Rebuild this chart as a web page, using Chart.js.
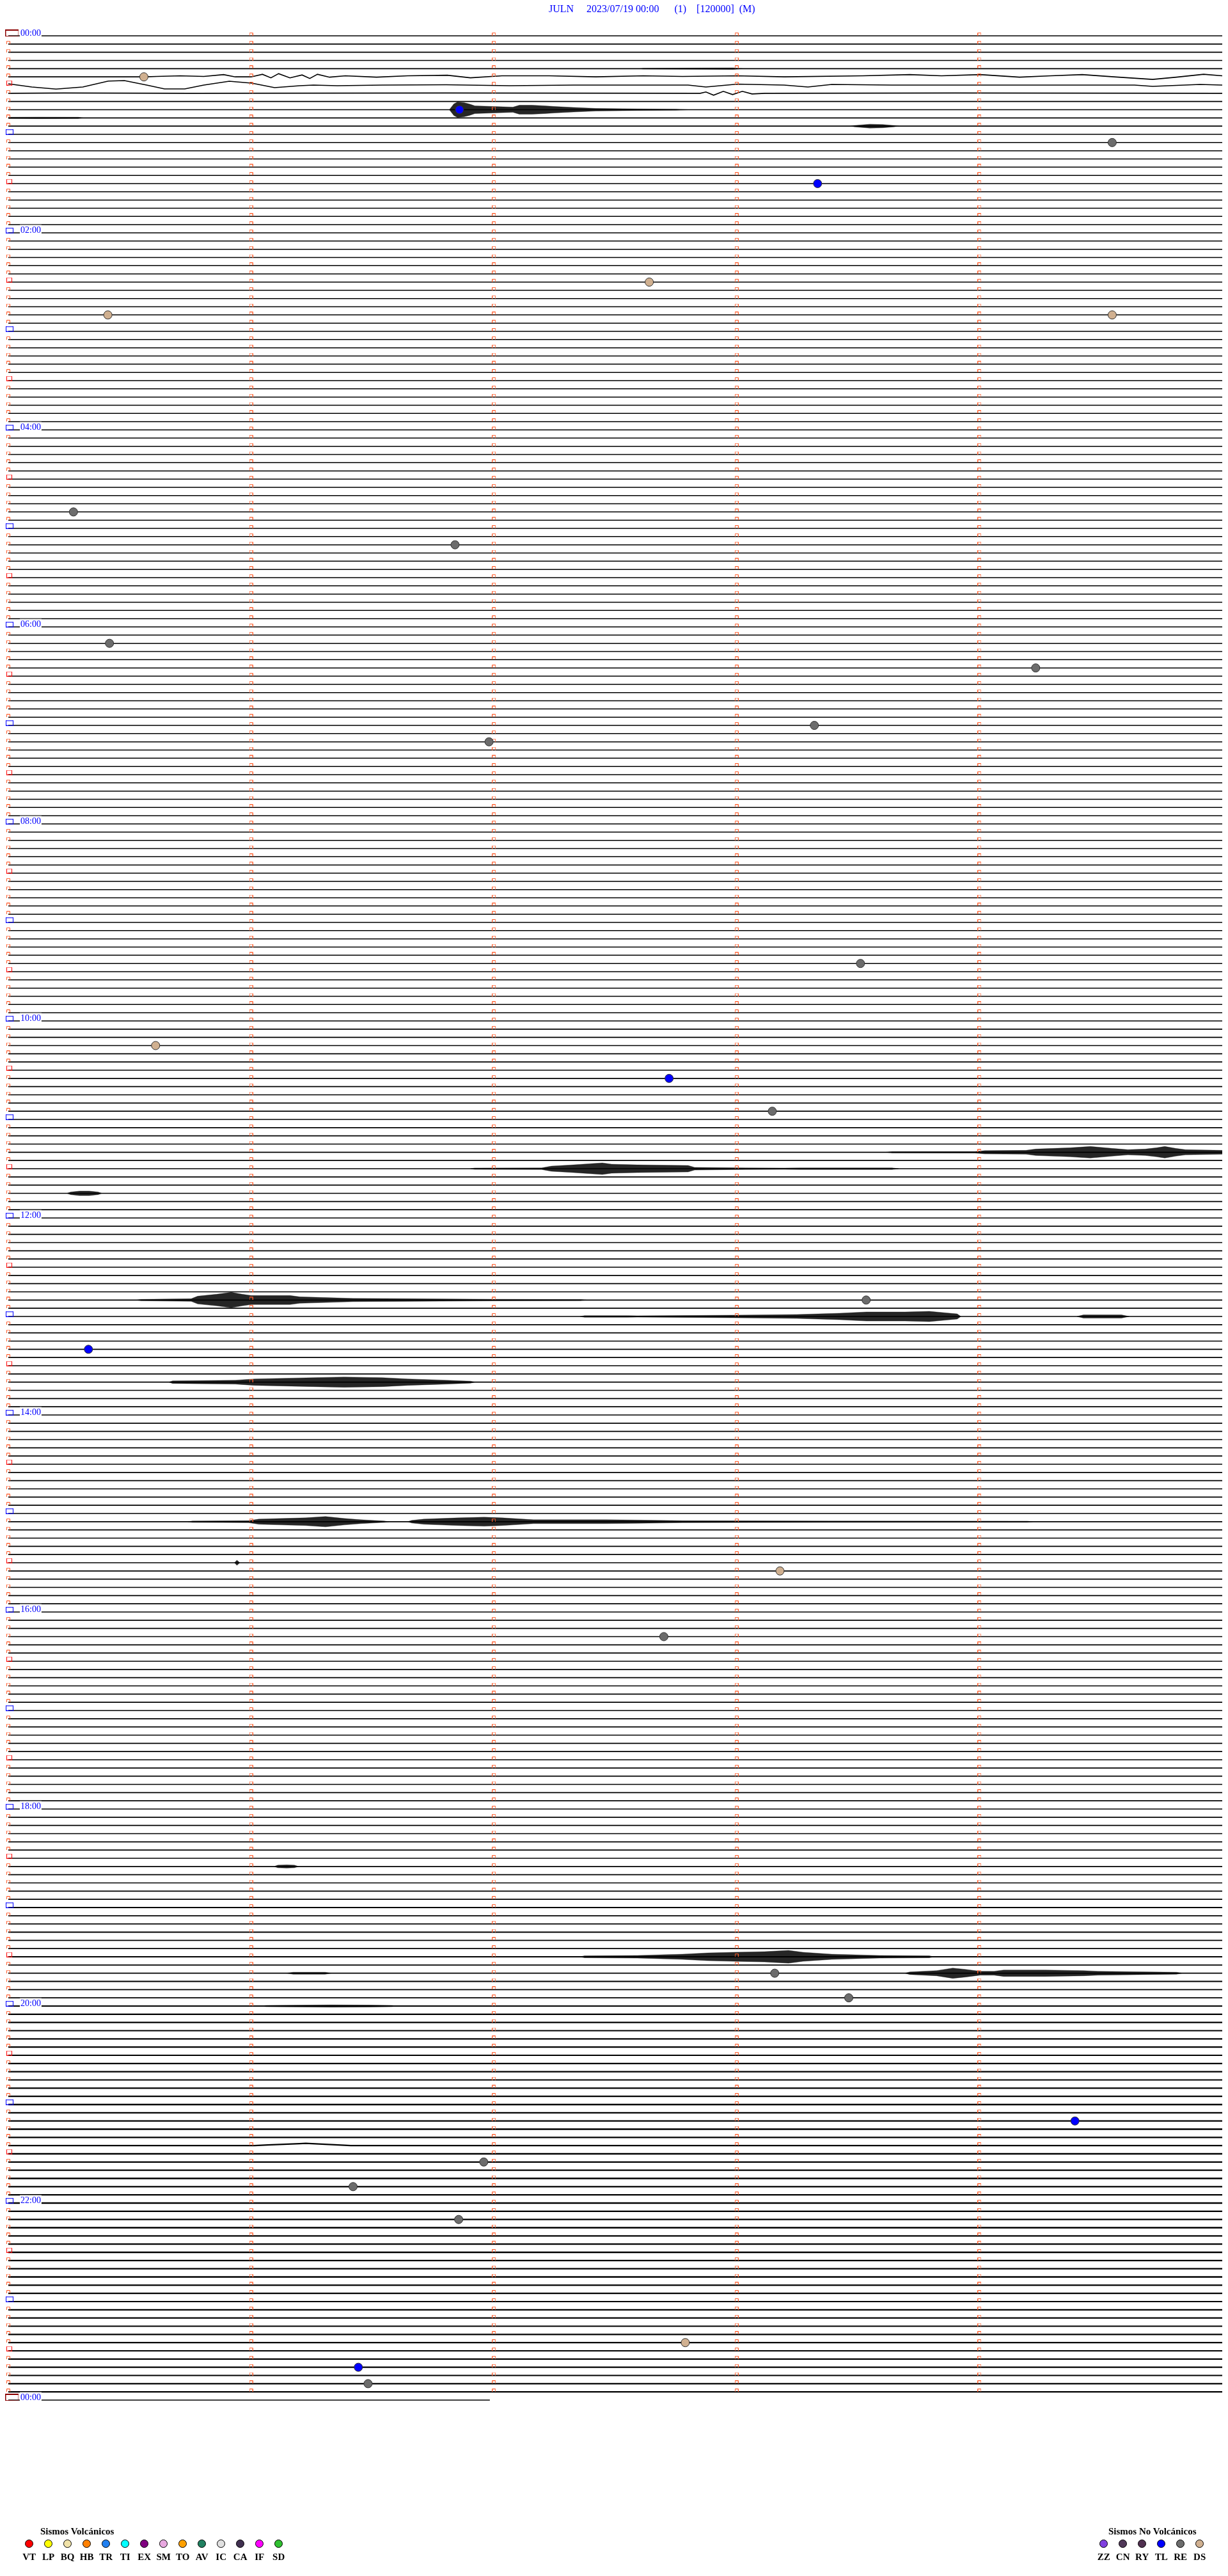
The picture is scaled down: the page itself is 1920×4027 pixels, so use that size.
<!DOCTYPE html>
<html>
<head>
<meta charset="utf-8">
<title>JULN 2023/07/19</title>
<script src="https://cdn.jsdelivr.net/npm/chart.js@4.4.0/dist/chart.umd.min.js"></script>
<style>
body { margin: 0; background: #fff; }
#wrap { position: relative; width: 1920px; height: 4027px; }
#heli { position: absolute; left: 0; top: 0; }
#title { position: absolute; left: 858px; top: 6px; font: 16px/16px "Liberation Serif"; color: #0000ff; white-space: pre; }
.legTitle { position: absolute; font: bold 15px/15px "Liberation Serif"; color: #000; white-space: pre; }
.legCode { position: absolute; width: 30px; text-align: center; font: bold 15px/15px "Liberation Serif"; color: #000; }
.legDot { position: absolute; width: 11px; height: 11px; border: 1px solid #000; border-radius: 50%; }
</style>
</head>
<body>
<div id="wrap">
	<canvas id="heli" width="1920" height="4027"></canvas>
	<div id="title">JULN     2023/07/19 00:00      (1)    [120000]  (M)</div>
</div>
<script>
// one line = 5 minutes, 288 lines for the day plus the closing 00:00 line
var lineCount = 288;
var lineSeconds = 300;
var lastLineEnd = 119;
var labelLines = [0, 24, 48, 72, 96, 120, 144, 168, 192, 216, 240, 264, 288];
var hourLabels = ['00:00', '02:00', '04:00', '06:00', '08:00', '10:00', '12:00', '14:00', '16:00', '18:00', '20:00', '22:00', '00:00'];
// background noise level for each hour of the day
var hourNoise = [0.3, 0.2, 0.2, 0.2, 0.2, 0.2, 0.2, 0.2, 0.2, 0.2, 0.3, 0.3, 0.3, 0.3, 0.3, 0.3, 0.3, 0.3, 0.4, 0.6, 0.9, 1.0, 1.0, 0.9];

// classified events
var eventLine = [5, 9, 13, 18, 30, 34, 34, 58, 62, 74, 77, 84, 86, 113, 123, 127, 131, 154, 160, 187, 195, 236, 239, 254, 259, 262, 266, 281, 284, 286];
var eventSec = [33.5, 111.5, 272.8, 200.0, 158.4, 24.6, 272.8, 16.1, 110.4, 25.0, 253.9, 199.2, 118.8, 210.6, 36.4, 163.3, 188.8, 212.0, 19.8, 190.7, 162.0, 189.4, 207.7, 263.6, 117.5, 85.2, 111.3, 167.3, 86.5, 88.9];
var eventType = ['DS', 'TL', 'RE', 'TL', 'DS', 'DS', 'DS', 'RE', 'RE', 'RE', 'RE', 'RE', 'RE', 'RE', 'DS', 'TL', 'RE', 'RE', 'TL', 'DS', 'RE', 'RE', 'RE', 'TL', 'RE', 'RE', 'RE', 'DS', 'TL', 'RE'];

// signal envelopes (seconds into the line, amplitude in counts)
var burstLine = [4, 9, 10, 11, 136, 138, 141, 154, 156, 156, 164, 181, 181, 186, 223, 234, 236, 236, 240];
var burstTime = [
	[156.2, 156.9, 171.2, 179.1, 180.2, 181.4],
	[109.0, 110.1, 111.0, 112.6, 113.9, 115.3, 120.0, 124.7, 126.3, 129.4, 132.6, 135.0, 139.7, 145.2, 155.4, 165.0, 168.0],
	[0, 0.3, 7.4, 17.3, 18.4],
	[208.2, 209.1, 212.9, 216.1, 218.9, 220.0],
	[217.0, 218.4, 238.9, 241.3, 251.5, 253.9, 262.5, 267.4, 272.8, 276.7, 281.0, 283.8, 285.8, 288.5, 290.9, 300.0],
	[114.2, 115.3, 131.8, 134.2, 139.7, 144.4, 146.8, 149.1, 155.4, 168.0, 169.6, 182.2, 191.7, 195.6, 218.4, 220.0],
	[14.5, 15.4, 17.6, 20.0, 22.2, 23.1],
	[31.8, 32.8, 45.2, 46.8, 51.5, 55.1, 57.8, 60.0, 69.6, 72.0, 85.2, 100.3, 120.0, 141.4, 142.8],
	[141.3, 142.4, 153.1, 155.4, 179.1, 194.8, 205.4, 212.1, 221.6, 227.6, 231.0, 234.5, 235.4],
	[264.1, 265.7, 275.1, 277.0],
	[39.7, 40.6, 56.1, 60.9, 75.4, 83.0, 92.4, 98.7, 108.2, 114.2, 115.3],
	[44.4, 45.5, 59.4, 61.9, 73.5, 78.4, 83.0, 87.1, 92.9, 94.0],
	[98.7, 99.7, 102.7, 111.3, 117.6, 122.0, 129.8, 147.6, 155.4, 166.6, 202.7, 251.8, 253.1],
	[55.9, 56.5, 57.2],
	[65.7, 66.6, 68.8, 70.7, 71.7],
	[141.3, 142.4, 155.4, 166.6, 172.8, 179.1, 186.9, 192.8, 196.4, 203.5, 215.3, 227.6, 228.7],
	[68.8, 70.4, 78.3, 79.8],
	[221.6, 222.8, 229.4, 233.4, 236.5, 240.2, 243.6, 246.0, 256.2, 265.7, 269.3, 288.7, 290.1],
	[62.5, 63.8, 79.8, 89.3, 94.8, 95.6]
];
var burstAmp = [
	[0, 0.6, 1, 1.2, 0.6, 0],
	[0, 9, 12, 11, 9, 6, 5, 4, 7, 7, 6, 5, 3.5, 2, 1.2, 0.8, 0],
	[0.8, 1, 1.2, 1, 0],
	[0, 1, 3, 2.5, 1, 0],
	[0, 1, 1.2, 2.5, 3, 5, 7, 9, 6, 4, 5, 7, 9, 6, 4, 3],
	[0, 1, 1.2, 4, 6, 8, 9, 7, 6, 5, 2, 1.2, 1, 1.2, 1.2, 0],
	[0, 2, 3.5, 3.5, 2, 0],
	[0, 1, 2, 6, 9, 12, 9, 7, 7, 5, 2.5, 2, 1.2, 0.8, 0],
	[0, 1.2, 1.2, 1, 2, 3, 5, 7, 7, 8, 6, 4, 0],
	[0, 2.5, 2.5, 0],
	[0, 2, 3, 5, 7, 8, 7, 5, 3, 1.5, 0],
	[0, 1, 1.5, 4, 6, 8, 5, 3, 1, 0],
	[0, 2, 4, 6, 7, 6, 3, 3, 2.5, 1.5, 1, 0.8, 0],
	[0, 4, 0],
	[0, 2, 2.5, 2, 0],
	[0, 1.5, 2, 4, 6, 7, 8, 10, 7, 4, 2, 1.5, 0],
	[0, 1.5, 1.5, 0],
	[0, 2, 4, 8, 6, 3, 3, 5, 5, 4, 3, 1.5, 0],
	[0, 1, 1.8, 1.5, 1, 0]
];

// lines with a visible waveform (drift)
var traceLine = [5, 6, 7, 257];
var traceTime = [
	[0, 33.9, 36.7, 42.5, 48.3, 53.2, 56.1, 60.0, 62.8, 64.9, 66.8, 69.6, 72.6, 74.5, 76.4, 79.4, 83.3, 91.0, 98.7, 108.5, 114.2, 122.0, 133.7, 145.2, 156.9, 166.6, 180.2, 191.8, 211.2, 222.8, 230.6, 240.2, 249.9, 257.6, 265.4, 273.2, 282.8, 288.7, 295.4, 300],
	[0, 5.8, 11.8, 18.4, 24.7, 28.7, 34.2, 38.6, 43.6, 48.3, 54.6, 60.2, 65.8, 72.0, 75.4, 81.3, 92.4, 108.2, 123.9, 139.7, 168.0, 172.4, 180.2, 191.7, 197.6, 203.5, 218.4, 234.2, 278.3, 282.8, 294.5, 300],
	[0, 13.7, 45.2, 108.0, 171.0, 172.4, 174.3, 176.7, 179.0, 181.4, 183.8, 187.0, 234.0, 300],
	[0, 60.9, 64.1, 72.0, 73.5, 76.7, 83.1, 84.6, 300]
];
var traceAmp = [
	[0, 0, 0.7, 1.7, 0.7, 3.5, 0, 0, 4, -1.5, 5, -1.5, 3, -2.5, 4, -0.5, 1.7, -0.5, 1.7, 2.5, -1.5, 1.7, 1.7, 0, 1.7, 0.7, 1.7, 0, 1.7, 3.5, 1.7, 3.5, -0.5, 1.7, 3.5, 0, -4, -0.5, 4, 1.7],
	[2, -3, -6.3, -3, 6.3, 7, 0, -6, -6, 0, 6, 3, -4, -1, 0, -1, 0, 0.5, -1, 0, 0, -3, 1.5, 0, -3, 1, 0, 0, 0, -2, 1, 0],
	[0, 0.5, 0, 0.5, 0, 2, -3, 3, -2, 3, -1, 0, 0.5, 0],
	[0, 0, 1, 3, 3.5, 2.5, 0.5, 0, 0]
];

var volcanicCodes = ['VT', 'LP', 'BQ', 'HB', 'TR', 'TI', 'EX', 'SM', 'TO', 'AV', 'IC', 'CA', 'IF', 'SD'];
var volcanicColors = ['#ff0000', '#ffff00', '#f0e2a8', '#ff8000', '#2080f0', '#00ffff', '#800080', '#e8a8e0', '#ffa000', '#208060', '#e0e0e0', '#403050', '#ff00ff', '#30c030'];
var tectonicCodes = ['ZZ', 'CN', 'RY', 'TL', 'RE', 'DS'];
var tectonicColors = ['#8040e0', '#503858', '#503050', '#0000ff', '#6c6c6c', '#d0b090'];

var spacing = (3752 - 56) / lineCount;   // px between two lines
var gain = 1 / spacing;                  // counts -> line units
var secPerPx = lineSeconds / 1905;

function box(w, h, color, topWidth, openBottom) {
	var c = document.createElement('canvas');
	c.width = w;
	c.height = h;
	var g = c.getContext('2d');
	g.strokeStyle = color;
	g.lineWidth = 1;
	g.beginPath();
	g.moveTo(0.5, h);
	g.lineTo(0.5, 0.5);
	g.lineTo(w - 0.5, 0.5);
	g.lineTo(w - 0.5, h);
	if (!openBottom) g.lineTo(0.5, h - 0.5);
	g.stroke();
	if (topWidth) {
		g.fillStyle = color;
		g.fillRect(0, 0, w, topWidth);
	}
	return c;
}

var minuteMark = box(6, 5, '#ff5a28', 0, true);
var hourMark = box(12, 9, '#0000ff', 1.5, false);
var halfMark = box(9, 8, '#ff0000', 0, false);
var dayMark = box(21, 11, '#8b0000', 2, false);

var datasets = [];

// events on top
var evData = [], evColors = [];
for (var e = 0; e < eventLine.length; e++) {
	evData.push({ x: eventSec[e], y: eventLine[e] });
	evColors.push(tectonicColors[tectonicCodes.indexOf(eventType[e])]);
}
datasets.push({
	type: 'line', data: evData, showLine: false, pointStyle: 'circle', pointRadius: 6.5,
	pointBackgroundColor: evColors, pointBorderColor: '#303030', pointBorderWidth: 1, clip: false, order: 0
});

// hour / half hour / day marks at line start
var sData = [], sStyle = [];
for (var i = 0; i <= lineCount; i += 6) {
	if (i === 0 || i === lineCount) {
		sData.push({ x: 6 * secPerPx, y: i - 4.5 * gain });
		sStyle.push(dayMark);
	} else if (i % 12 === 0) {
		sData.push({ x: 2 * secPerPx, y: i - 4 * gain });
		sStyle.push(hourMark);
	} else {
		sData.push({ x: 1.5 * secPerPx, y: i - 3.5 * gain });
		sStyle.push(halfMark);
	}
}
datasets.push({ type: 'line', data: sData, showLine: false, pointStyle: sStyle, pointRadius: 8, clip: false, order: 1 });

// minute marks
var mData = [];
for (var i = 0; i < lineCount; i++) {
	for (var m = 0; m < 5; m++) {
		if (m === 0 && i % 6 === 0) continue;
		mData.push({ x: m * 60, y: i - 2.5 * gain });
	}
}
datasets.push({ type: 'line', data: mData, showLine: false, pointStyle: minuteMark, pointRadius: 6, clip: false, order: 2 });

// signal envelopes
for (var b = 0; b < burstLine.length; b++) {
	var up = [], lo = [];
	for (var k = 0; k < burstTime[b].length; k++) {
		up.push({ x: burstTime[b][k], y: burstLine[b] - burstAmp[b][k] * gain });
		lo.push({ x: burstTime[b][k], y: burstLine[b] + burstAmp[b][k] * gain });
	}
	datasets.push({ type: 'line', data: up, borderColor: 'rgba(0,0,0,0.5)', borderWidth: 0.8, backgroundColor: 'rgba(0,0,0,0.85)', fill: '+1', pointRadius: 0, tension: 0, clip: false, order: 3 });
	datasets.push({ type: 'line', data: lo, borderColor: 'rgba(0,0,0,0.5)', borderWidth: 0.8, fill: false, pointRadius: 0, tension: 0, clip: false, order: 3 });
}

// waveform lines
for (var t = 0; t < traceLine.length; t++) {
	var pts = [];
	for (var k = 0; k < traceTime[t].length; k++) {
		pts.push({ x: traceTime[t][k], y: traceLine[t] - traceAmp[t][k] * gain });
	}
	var h = Math.floor(traceLine[t] / 12);
	datasets.push({ type: 'line', data: pts, borderColor: '#000', borderWidth: 1.3 + hourNoise[h], fill: false, pointRadius: 0, tension: 0, clip: false, order: 4 });
}

// flat base lines, one set per hour
for (var h = 0; h < 24; h++) {
	var pts = [];
	for (var i = h * 12; i < h * 12 + 12; i++) {
		if (traceLine.indexOf(i) >= 0) continue;
		pts.push({ x: 0, y: i }, { x: lineSeconds, y: i }, { x: lineSeconds, y: null });
	}
	datasets.push({ type: 'line', data: pts, borderColor: '#000', borderWidth: 1.3 + hourNoise[h], fill: false, pointRadius: 0, spanGaps: false, clip: false, order: 5 });
}
datasets.push({ type: 'line', data: [{ x: 0, y: lineCount }, { x: lastLineEnd, y: lineCount }], borderColor: '#000', borderWidth: 1.4, pointRadius: 0, clip: false, order: 5 });

var heli = new Chart(document.getElementById('heli'), {
	type: 'line',
	data: { datasets: datasets },
	options: {
		responsive: false,
		animation: false,
		devicePixelRatio: 1,
		events: [],
		layout: { padding: { left: 13, right: 2, top: 56, bottom: 275 } },
		plugins: { legend: { display: false }, tooltip: { enabled: false }, title: { display: false } },
		scales: {
			x: { type: 'linear', min: 0, max: lineSeconds, display: false },
			y: {
				type: 'linear', min: 0, max: lineCount, reverse: true,
				grid: { display: false, drawTicks: false },
				border: { display: false },
				afterBuildTicks: function(scale) {
					scale.ticks = labelLines.map(function(v) { return { value: v }; });
				},
				afterFit: function(scale) { scale.width = 0; },
				ticks: {
					mirror: true, padding: 19, labelOffset: -4, z: 1, autoSkip: false,
					color: '#0000ff',
					font: { family: 'Liberation Serif', size: 14 },
					showLabelBackdrop: true, backdropColor: '#ffffff',
					backdropPadding: { left: 1, right: 1, top: 0, bottom: 0 },
					callback: function(v) { return hourLabels[labelLines.indexOf(v)]; }
				}
			}
		}
	}
});

// legend
var wrap = document.getElementById('wrap');
function addLegend(title, titleX, firstX, codes, colors) {
	var d = document.createElement('div');
	d.className = 'legTitle';
	d.textContent = title;
	d.style.left = titleX + 'px';
	d.style.top = '3950px';
	wrap.appendChild(d);
	for (var j = 0; j < codes.length; j++) {
		var cx = firstX + j * 30;
		var dot = document.createElement('div');
		dot.className = 'legDot';
		dot.style.left = (cx - 6.5) + 'px';
		dot.style.top = '3970px';
		dot.style.background = colors[j];
		wrap.appendChild(dot);
		var lab = document.createElement('div');
		lab.className = 'legCode';
		lab.textContent = codes[j];
		lab.style.left = (cx - 15) + 'px';
		lab.style.top = '3990px';
		wrap.appendChild(lab);
	}
}
addLegend('Sismos Volcánicos', 63, 45.7, volcanicCodes, volcanicColors);
addLegend('Sismos No Volcánicos', 1733, 1725.7, tectonicCodes, tectonicColors);
</script>
</body>
</html>
